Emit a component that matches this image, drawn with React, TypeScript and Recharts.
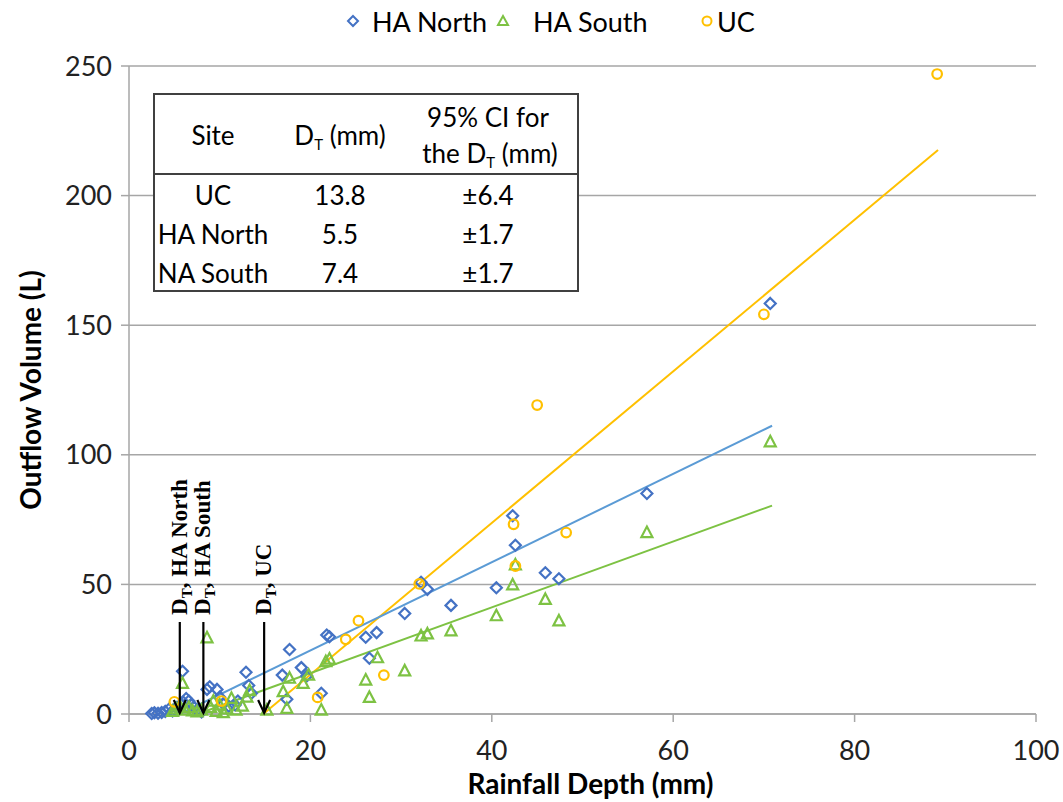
import React from 'react';
import { ScatterChart, Scatter, XAxis, YAxis, CartesianGrid } from 'recharts';

// ---- data ----
const northRain = [2.5, 2.8, 3.2, 3.6, 4.0, 4.4, 4.8, 5.2, 5.5, 5.9, 6.0, 6.3, 6.6, 6.9, 7.2, 7.5, 8.0, 8.6, 8.9, 9.7, 10.0, 10.4, 11.0, 11.7, 12.0, 12.9, 13.2, 13.5, 16.9, 17.4, 17.7, 19.0, 19.6, 21.2, 21.8, 22.1, 26.1, 26.5, 27.3, 30.4, 32.2, 32.9, 35.5, 40.5, 42.3, 42.6, 45.9, 47.4, 57.1, 70.7];
const northVolume = [0.2, 0.5, 0.3, 0.6, 1.0, 1.8, 1.2, 2.5, 3.0, 16.5, 4.5, 6.0, 5.0, 3.5, 2.5, 1.5, 0.8, 9.5, 10.5, 9.5, 6.5, 4.0, 3.0, 3.5, 5.0, 16.1, 11.0, 8.0, 15.0, 5.7, 24.9, 17.9, 14.7, 8.0, 30.5, 29.8, 29.6, 21.5, 31.4, 38.8, 50.8, 48.1, 41.9, 48.7, 76.5, 65.1, 54.5, 52.2, 85.1, 158.4];

const southRain = [4.8, 5.2, 5.6, 5.9, 6.2, 6.6, 7.0, 7.5, 8.0, 8.6, 9.0, 9.3, 9.6, 10.0, 10.4, 10.8, 11.3, 11.8, 12.5, 13.0, 13.3, 15.2, 17.0, 17.4, 17.7, 19.2, 19.8, 21.2, 21.7, 22.1, 26.1, 26.5, 27.4, 30.4, 32.2, 32.9, 35.5, 40.5, 42.3, 42.6, 45.9, 47.4, 57.1, 70.7];
const southVolume = [1.0, 2.0, 3.0, 11.8, 1.5, 2.5, 1.2, 0.8, 1.5, 29.4, 2.5, 5.0, 1.0, 3.5, 0.5, 2.0, 6.0, 1.5, 3.0, 6.5, 9.0, 1.5, 8.6, 2.2, 13.8, 11.8, 15.0, 1.5, 20.2, 21.2, 13.1, 6.4, 21.7, 16.6, 30.1, 30.9, 32.1, 37.9, 49.8, 57.5, 44.2, 35.9, 70.0, 105.0];

const ucRain = [5.0, 10.2, 20.8, 23.9, 25.3, 28.1, 32.0, 42.4, 42.6, 45.0, 48.2, 70.0, 89.1];
const ucVolume = [4.7, 5.0, 6.4, 28.8, 36.0, 15.0, 50.2, 73.2, 57.1, 119.2, 70.0, 154.2, 246.9];

// fitted trend lines (end points)
const northTrendRain = [5.6, 70.9];
const northTrendVolume = [0, 111.2];
const southTrendRain = [7.6, 70.9];
const southTrendVolume = [0, 80.4];
const ucTrendRain = [14.8, 89.2];
const ucTrendVolume = [0, 217.6];

// threshold-depth arrows
const arrowSites = ['HA North', 'HA South', 'UC'];
const arrowDepth = [5.6, 8.2, 14.9];
const arrowTopVolume = 35.5;
const arrowTipVolume = 0.4;

// table
const tableSites = ['UC', 'HA North', 'NA South'];
const tableDT = ['13.8', '5.5', '7.4'];
const tableCI = ['±6.4', '±1.7', '±1.7'];

const xTicks = [0, 20, 40, 60, 80, 100];
const yTicks = [0, 50, 100, 150, 200, 250];

// ---- styles ----
const BLUE = '#4472C4';
const BLUE_LINE = '#5B9BD5';
const GREEN = '#7DC243';
const ORANGE = '#FFC000';
const FONT = 'Lato, "Open Sans", sans-serif';

const toPoints = (xs: number[], ys: number[]) => xs.map((x, i) => ({ x, y: ys[i] }));

const northData = toPoints(northRain, northVolume);
const southData = toPoints(southRain, southVolume);
const ucData = toPoints(ucRain, ucVolume);

const Diamond = (p: any) => (
  <path
    d={`M${p.cx},${p.cy - 5.5}L${p.cx + 5.5},${p.cy}L${p.cx},${p.cy + 5.5}L${p.cx - 5.5},${p.cy}Z`}
    fill="none"
    stroke={BLUE}
    strokeWidth={2.2}
  />
);
const Triangle = (p: any) => (
  <path
    d={`M${p.cx},${p.cy - 6}L${p.cx + 5.5},${p.cy + 4.5}L${p.cx - 5.5},${p.cy + 4.5}Z`}
    fill="none"
    stroke={GREEN}
    strokeWidth={2.2}
  />
);
const Ring = (p: any) => <circle cx={p.cx} cy={p.cy} r={4.8} fill="none" stroke={ORANGE} strokeWidth={2.2} />;
const NoShape = () => <g />;

const makeArrowShape = (site: string) => (p: any) => {
  const { cx, cy, payload } = p;
  if (payload.tip) {
    return (
      <path d={`M${cx - 6},${cy - 13}L${cx},${cy}L${cx + 6},${cy - 13}`} fill="none" stroke="#000" strokeWidth={2.2} />
    );
  }
  const tx = cx + 7;
  const ty = cy - 7;
  return (
    <text
      x={tx}
      y={ty}
      transform={`rotate(-90 ${tx} ${ty})`}
      fontFamily='"Liberation Serif", "DejaVu Serif", serif'
      fontWeight="bold"
      fontSize={23}
      fill="#000"
    >
      D<tspan fontSize={15} dy={5}>T</tspan>
      <tspan dy={-5}>, {site}</tspan>
    </text>
  );
};

const LegendItem = ({ left, children }: any) => (
  <div style={{ position: 'absolute', left, top: 0, height: 42, display: 'flex', alignItems: 'center' }}>{children}</div>
);

const cell = (left: number, top: number, content: any, key: string) => (
  <div
    key={key}
    style={{
      position: 'absolute',
      left,
      top,
      transform: 'translate(-50%, -50%)',
      whiteSpace: 'nowrap',
      lineHeight: 1,
    }}
  >
    {content}
  </div>
);

const Sub = () => <span style={{ fontSize: 15, position: 'relative', top: 5 }}>T</span>;

export default function App() {
  return (
    <div style={{ position: 'relative', width: 1063, height: 802, background: '#fff', fontFamily: FONT }}>
      <style>{`body{margin:0;}`}</style>
      <ScatterChart width={1063} height={802} margin={{ top: 66, right: 27, bottom: 0, left: 0 }}>
        <CartesianGrid horizontal vertical={false} stroke="#A6A6A6" strokeWidth={1.5} />
        <XAxis
          type="number"
          dataKey="x"
          domain={[0, 100]}
          ticks={xTicks}
          height={88}
          tickSize={8}
          tickMargin={19}
          stroke="#A6A6A6"
          strokeWidth={1.5}
          tick={{ fontSize: 27, fill: '#222', fontFamily: FONT }}
          label={{
            content: (props: any) => {
              const vb = props.viewBox;
              return (
                <text
                  x={vb.x + vb.width / 2 + 8}
                  y={vb.y + 80}
                  textAnchor="middle"
                  fontFamily={FONT}
                  fontWeight="bold"
                  fontSize={28}
                  fill="#000"
                >
                  Rainfall Depth (mm)
                </text>
              );
            },
          }}
        />
        <YAxis
          type="number"
          dataKey="y"
          domain={[0, 250]}
          ticks={yTicks}
          width={129}
          tickSize={8}
          tickMargin={9}
          stroke="#A6A6A6"
          strokeWidth={1.5}
          tick={{ fontSize: 27, fill: '#222', fontFamily: FONT }}
          label={{
            content: (props: any) => {
              const vb = props.viewBox;
              const x = 30;
              const y = vb.y + vb.height / 2;
              return (
                <text
                  x={x}
                  y={y}
                  transform={`rotate(-90 ${x} ${y})`}
                  textAnchor="middle"
                  dominantBaseline="central"
                  fontFamily={FONT}
                  fontWeight="bold"
                  fontSize={28}
                  fill="#000"
                >
                  Outflow Volume (L)
                </text>
              );
            },
          }}
        />
        <Scatter name="UC trend" data={toPoints(ucTrendRain, ucTrendVolume)} line={{ stroke: ORANGE, strokeWidth: 2 }} shape={NoShape} isAnimationActive={false} />
        <Scatter name="HA North trend" data={toPoints(northTrendRain, northTrendVolume)} line={{ stroke: BLUE_LINE, strokeWidth: 2 }} shape={NoShape} isAnimationActive={false} />
        <Scatter name="HA South trend" data={toPoints(southTrendRain, southTrendVolume)} line={{ stroke: GREEN, strokeWidth: 2 }} shape={NoShape} isAnimationActive={false} />
        <Scatter name="HA North" data={northData} shape={Diamond} isAnimationActive={false} />
        <Scatter name="HA South" data={southData} shape={Triangle} isAnimationActive={false} />
        <Scatter name="UC" data={ucData} shape={Ring} isAnimationActive={false} />
        {arrowSites.map((site, i) => (
          <Scatter
            key={site}
            name={`arrow ${site}`}
            data={[
              { x: arrowDepth[i], y: arrowTopVolume, tip: false },
              { x: arrowDepth[i], y: arrowTipVolume, tip: true },
            ]}
            line={{ stroke: '#000', strokeWidth: 2.2 }}
            shape={makeArrowShape(site)}
            isAnimationActive={false}
          />
        ))}
      </ScatterChart>

      {/* legend */}
      <div style={{ position: 'absolute', left: 0, top: 0, width: 1063, height: 42, fontSize: 27, color: '#000' }}>
        <LegendItem left={346}>
          <svg width={14} height={14}>
            <path d="M7,2L12,7L7,12L2,7Z" fill="none" stroke={BLUE} strokeWidth={2} />
          </svg>
        </LegendItem>
        <LegendItem left={372}>HA North</LegendItem>
        <LegendItem left={496}>
          <svg width={14} height={14}>
            <path d="M7,2L12,11L2,11Z" fill="none" stroke={GREEN} strokeWidth={2} />
          </svg>
        </LegendItem>
        <LegendItem left={533}>HA South</LegendItem>
        <LegendItem left={700}>
          <svg width={14} height={14}>
            <circle cx={7} cy={7} r={4.5} fill="none" stroke={ORANGE} strokeWidth={2} />
          </svg>
        </LegendItem>
        <LegendItem left={717}>UC</LegendItem>
      </div>

      {/* table */}
      <div
        style={{
          position: 'absolute',
          left: 153,
          top: 93,
          width: 426,
          height: 199,
          border: '2px solid #404040',
          boxSizing: 'border-box',
          background: '#fff',
          fontSize: 26,
          color: '#000',
        }}
      >
        <div style={{ position: 'absolute', left: 0, right: 0, top: 78, borderTop: '2px solid #404040' }} />
        {cell(58, 40, 'Site', 'h1')}
        {cell(185, 40, <span>D<Sub /> (mm)</span>, 'h2')}
        {cell(333, 22, '95% CI for', 'h3a')}
        {cell(335, 58, <span>the D<Sub /> (mm)</span>, 'h3b')}
        {tableSites.map((s, i) => cell(58, 100 + i * 39, s, `s${i}`))}
        {tableDT.map((s, i) => cell(185, 100 + i * 39, s, `d${i}`))}
        {tableCI.map((s, i) => cell(333, 100 + i * 39, s, `c${i}`))}
      </div>
    </div>
  );
}
